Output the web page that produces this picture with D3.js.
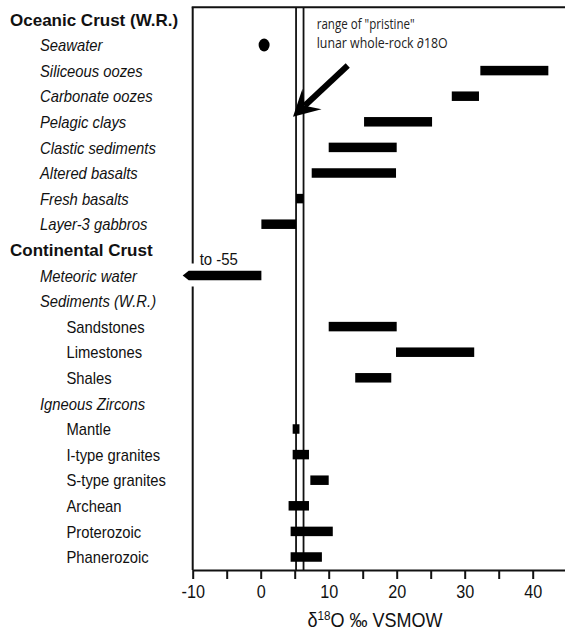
<!DOCTYPE html>
<html>
<head>
<meta charset="utf-8">
<script src="https://cdn.jsdelivr.net/npm/d3@7"></script>
<style>
  html, body { margin: 0; padding: 0; background: #fff; }
  svg { display: block; font-family: "Liberation Sans", Arial, sans-serif; }
</style>
</head>
<body>
<div id="chart"></div>
<script>
/* d18O ranges of crustal reservoirs vs the "pristine" lunar whole-rock range */

// rows, top to bottom (0 = group, 1 = category, 2 = sub-category)
const rowLabels = [
  'Oceanic Crust (W.R.)', 'Seawater', 'Siliceous oozes', 'Carbonate oozes', 'Pelagic clays',
  'Clastic sediments', 'Altered basalts', 'Fresh basalts', 'Layer-3 gabbros',
  'Continental Crust', 'Meteoric water', 'Sediments (W.R.)', 'Sandstones', 'Limestones', 'Shales',
  'Igneous Zircons', 'Mantle', 'I-type granites', 'S-type granites', 'Archean', 'Proterozoic', 'Phanerozoic'
];
const rowLevels = [0,1,1,1,1,1,1,1,1, 0,1,1,2,2,2, 1,2,2,2,2,2,2];

// ranges (per mil VSMOW)
const rangeNames = ['Siliceous oozes','Carbonate oozes','Pelagic clays','Clastic sediments','Altered basalts',
  'Fresh basalts','Layer-3 gabbros','Sandstones','Limestones','Shales',
  'Mantle','I-type granites','S-type granites','Archean','Proterozoic','Phanerozoic'];
const rangeLow  = [32.3, 28.1, 15.2, 10.0,  7.5, 5.2, 0.1, 10.0, 19.9, 13.9, 4.7, 4.7,  7.3, 4.1,  4.4, 4.4];
const rangeHigh = [42.3, 32.1, 25.2, 20.0, 19.9, 6.3, 5.2, 20.0, 31.4, 19.2, 5.7, 7.1, 10.0, 7.1, 10.6, 9.0];

// single values
const pointNames = ['Seawater'];
const pointValues = [0.5];

// off-scale range (runs to -55)
const offNames = ['Meteoric water'];
const offLow = [-55];
const offHigh = [0.1];

// lunar band
const lunarRange = [5.2, 6.3];

const xTicks = d3.range(-10, 50, 5);
const xTickLabels = [-10, 0, 10, 20, 30, 40];

const W = 565, H = 630;
const svg = d3.select('#chart').append('svg').attr('width', W).attr('height', H);

const x = d3.scaleLinear().domain([-10, 50]).range([192.7, 600.7]);
const yIdx = d3.scaleLinear().domain([0, rowLabels.length - 1]).range([19.4, 557]);
const y = name => yIdx(rowLabels.indexOf(name));
const plotTop = 7.3, plotBottom = 570, barH = 9.5;

// row labels
const labelX = [10, 40, 66.5];
rowLabels.forEach((lab, i) => {
  const lev = rowLevels[i];
  svg.append('text')
    .attr('transform', `translate(${labelX[lev]},${yIdx(i)}) scale(${lev === 0 ? 1 : 0.87},1)`)
    .attr('dy', '0.36em')
    .attr('fill', '#111')
    .style('font-size', '17px')
    .style('font-weight', lev === 0 ? 700 : 400)
    .style('font-style', lev === 1 ? 'italic' : 'normal')
    .text(lab);
});

// lunar vertical lines
svg.selectAll('line.lunar').data(lunarRange).enter().append('line')
  .attr('class', 'lunar')
  .attr('x1', d => x(d)).attr('x2', d => x(d))
  .attr('y1', plotTop).attr('y2', plotBottom)
  .attr('stroke', '#111').attr('stroke-width', 1.8);

// range bars
svg.selectAll('rect.range').data(rangeNames).enter().append('rect')
  .attr('class', 'range')
  .attr('x', (d, i) => x(rangeLow[i]))
  .attr('width', (d, i) => x(rangeHigh[i]) - x(rangeLow[i]))
  .attr('y', d => y(d) - barH / 2)
  .attr('height', barH)
  .attr('fill', '#000');

// point values
svg.selectAll('ellipse.pt').data(pointNames).enter().append('ellipse')
  .attr('class', 'pt')
  .attr('cx', (d, i) => x(pointValues[i]))
  .attr('cy', d => y(d))
  .attr('rx', 5.5).attr('ry', 6.5)
  .attr('fill', '#000');

// off-scale bar with arrow point past the axis
offNames.forEach((name, i) => {
  const cy = y(name);
  const x0 = x.range()[0];
  const tipX = x0 - 10;
  const xr = x(Math.max(offLow[i], offHigh[i]));
  svg.append('path')
    .attr('d', `M${tipX},${cy} L${tipX + 6},${cy - barH / 2} L${xr},${cy - barH / 2} L${xr},${cy + barH / 2} L${tipX + 6},${cy + barH / 2} Z`)
    .attr('fill', '#000');
  svg.append('text')
    .attr('transform', `translate(${x0 + 7},${cy - 10}) scale(0.88,1)`)
    .attr('fill', '#111')
    .style('font-size', '17px')
    .text('to ' + offLow[i]);
});

// frame: top and left (left broken where the off-scale arrow passes)
const gapY = y(offNames[0]);
svg.append('line')
  .attr('x1', x.range()[0] - 1).attr('x2', W)
  .attr('y1', plotTop).attr('y2', plotTop)
  .attr('stroke', '#111').attr('stroke-width', 2);
[[plotTop, gapY - 12], [gapY + 11, plotBottom]].forEach(([a, b]) => {
  svg.append('line')
    .attr('x1', x.range()[0]).attr('x2', x.range()[0])
    .attr('y1', a).attr('y2', b)
    .attr('stroke', '#111').attr('stroke-width', 2);
});

// bottom axis
const axis = svg.append('g').attr('transform', `translate(0,${plotBottom})`)
  .call(d3.axisBottom(x).tickValues(xTicks).tickSize(9).tickSizeOuter(0)
    .tickFormat(d => xTickLabels.includes(d) ? d : ''));
axis.select('.domain').attr('stroke', '#111').attr('stroke-width', 2);
axis.selectAll('.tick line').attr('stroke', '#111').attr('stroke-width', 2);
axis.selectAll('.tick text')
  .attr('y', 15)
  .attr('transform', 'scale(0.9,1)')
  .attr('fill', '#111')
  .style('font-size', '18px')
  .style('font-family', '"Liberation Sans", Arial, sans-serif');

// axis title
const title = svg.append('text')
  .attr('transform', `translate(375,627) scale(0.9,1)`)
  .attr('text-anchor', 'middle')
  .attr('fill', '#111')
  .style('font-size', '20px');
title.append('tspan').text('δ');
title.append('tspan').attr('dy', -7).style('font-size', '13px').text('18');
title.append('tspan').attr('dy', 7).text('O ‰ VSMOW');

// annotation: arrow to the lunar band
const tip = [x(4.75), yIdx(3.8)];
const tail = [x(12.8), yIdx(1.8)];
const ang = Math.atan2(tip[1] - tail[1], tip[0] - tail[0]);
const ux = Math.cos(ang), uy = Math.sin(ang), px = -uy, py = ux;
const headL = 26, headW = 14, notch = 16;
const hb = [tip[0] - ux * headL, tip[1] - uy * headL];
const hn = [tip[0] - ux * notch, tip[1] - uy * notch];
svg.append('line')
  .attr('x1', tail[0]).attr('y1', tail[1])
  .attr('x2', hn[0]).attr('y2', hn[1])
  .attr('stroke', '#000').attr('stroke-width', 6);
svg.append('path')
  .attr('d', `M${tip[0]},${tip[1]} L${hb[0] + px * headW},${hb[1] + py * headW} L${hn[0]},${hn[1]} L${hb[0] - px * headW},${hb[1] - py * headW} Z`)
  .attr('fill', '#000');

const noteLines = ['range of "pristine"', 'lunar whole-rock ∂18O'];
const noteWidths = [98, 131];
noteLines.forEach((s, i) => {
  svg.append('text')
    .attr('x', 316.7).attr('y', 29 + i * 19)
    .attr('textLength', noteWidths[i]).attr('lengthAdjust', 'spacingAndGlyphs')
    .attr('fill', '#222')
    .style('font-family', '"Open Sans", "Noto Sans", sans-serif')
    .style('font-size', '14px')
    .text(s);
});
</script>
</body>
</html>
